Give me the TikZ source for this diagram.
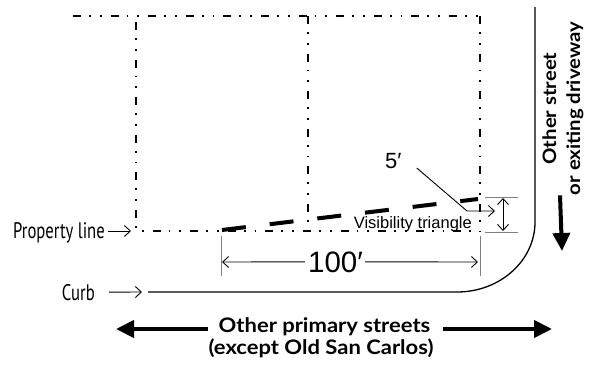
\documentclass[tikz,border=0pt]{standalone}
\usepackage{fontspec}
\usetikzlibrary{arrows.meta}
\newfontfamily\labelfont[FakeStretch=0.74]{PT Sans}
\newfontfamily\dimfont{Liberation Sans}
\newfontfamily\streetfont[FakeStretch=1.1]{Lato}

\begin{document}
\begin{tikzpicture}[x=1pt, y=-1pt,
  lot/.style={line width=1.8pt, dash pattern=on 8pt off 8pt on 1.8pt off 9pt on 1.8pt off 9pt},
  ext/.style={gray, line width=0.7pt},
  dim/.style={line width=0.9pt, -{Straight Barb[length=6pt,width=11pt]}},
  heavy/.style={line width=4pt, -{Triangle[length=18pt,width=17pt]}},
  lbl/.style={inner sep=0pt}]
\useasboundingbox (0,0) rectangle (599,364);

% Set the free ends of the arrows
\coordinate (pl-tip) at (131,231);
\coordinate (curb-tip) at (142,292);
\coordinate (h-left) at (222,262);
\coordinate (h-right) at (478,262);
\coordinate (five-top) at (503,198);
\coordinate (five-bot) at (503,231);
\coordinate (lead-bend) at (467,211);
\coordinate (lead-tip) at (495,211);
\coordinate (west-tip) at (116,329);
\coordinate (east-tip) at (552,329);
\coordinate (south-tip) at (562,251);

% Draw the lots
\draw[lot] (73,16) -- (480,16);
\draw[lot] (136,22) -- (136,231) -- (480,231);
\draw[lot] (308,16) -- (308,231);
\draw[lot] (480,16) -- (480,231);

% Visibility line and curb
\draw[line width=4pt, dash pattern=on 24pt off 24pt] (222,230) -- (478,199);
\draw[line width=1.3pt] (535,7) -- (535,222)
  arc[start angle=0, end angle=90, x radius=78, y radius=70] -- (148,292);

% Extension lines
\draw[ext] (221,236) -- (221,276);
\draw[ext] (480,236) -- (480,276);
\draw[ext] (485,197) -- (518,197);
\draw[ext] (485,232) -- (518,232);

% Labels
\node[lbl, anchor=base east, font=\labelfont\fontsize{22.5}{24}\selectfont] (prop) at (105,238) {Property line};
\node[lbl, anchor=base east, font=\labelfont\fontsize{22.5}{24}\selectfont] (curb) at (95,300) {Curb};
\node[lbl, anchor=base, font=\dimfont\fontsize{29.5}{30}\selectfont] (hundred) at (335.5,272) {100′};
\node[lbl, anchor=base west, font=\dimfont\fontsize{22}{24}\selectfont] (five) at (385,168) {5′};
\node[lbl, anchor=base east, font=\dimfont\fontsize{16.5}{18}\selectfont] (vis) at (472,228) {Visibility triangle};
\node[lbl, anchor=base, font=\streetfont\bfseries\fontsize{20}{22}\selectfont] (primary) at (324.5,332) {Other primary streets};
\node[lbl, anchor=base, font=\streetfont\bfseries\fontsize{20}{22}\selectfont] (except) at (321,354) {(except Old San Carlos)};
\node[lbl, anchor=base, rotate=90, font=\streetfont\bfseries\fontsize{18.5}{20}\selectfont] (other) at (556,108.5) {Other street};
\node[lbl, anchor=base, rotate=90, font=\streetfont\bfseries\fontsize{18.5}{20}\selectfont] (exiting) at (580,108.5) {or exiting driveway};

% Arrows
\draw[dim] ([xshift=3pt,yshift=7pt]prop.base east) -- (pl-tip);
\draw[dim] ([xshift=14pt]curb.east) -- (curb-tip);
\draw[dim] ([xshift=-3pt]hundred.west) -- (h-left);
\draw[dim] ([xshift=2pt]hundred.east) -- (h-right);
\draw[dim, {Straight Barb[length=6pt,width=11pt]}-{Straight Barb[length=6pt,width=11pt]}] (five-top) -- (five-bot);
\draw[dim] ([xshift=15pt]five.base east) -- (lead-bend) -- (lead-tip);
\draw[heavy] ([xshift=-10pt]primary.west |- west-tip) -- (west-tip);
\draw[heavy] ([xshift=12pt]primary.east |- east-tip) -- (east-tip);
\draw[heavy] ([xshift=-2pt]exiting.west -| south-tip) -- (south-tip);
\end{tikzpicture}
\end{document}
